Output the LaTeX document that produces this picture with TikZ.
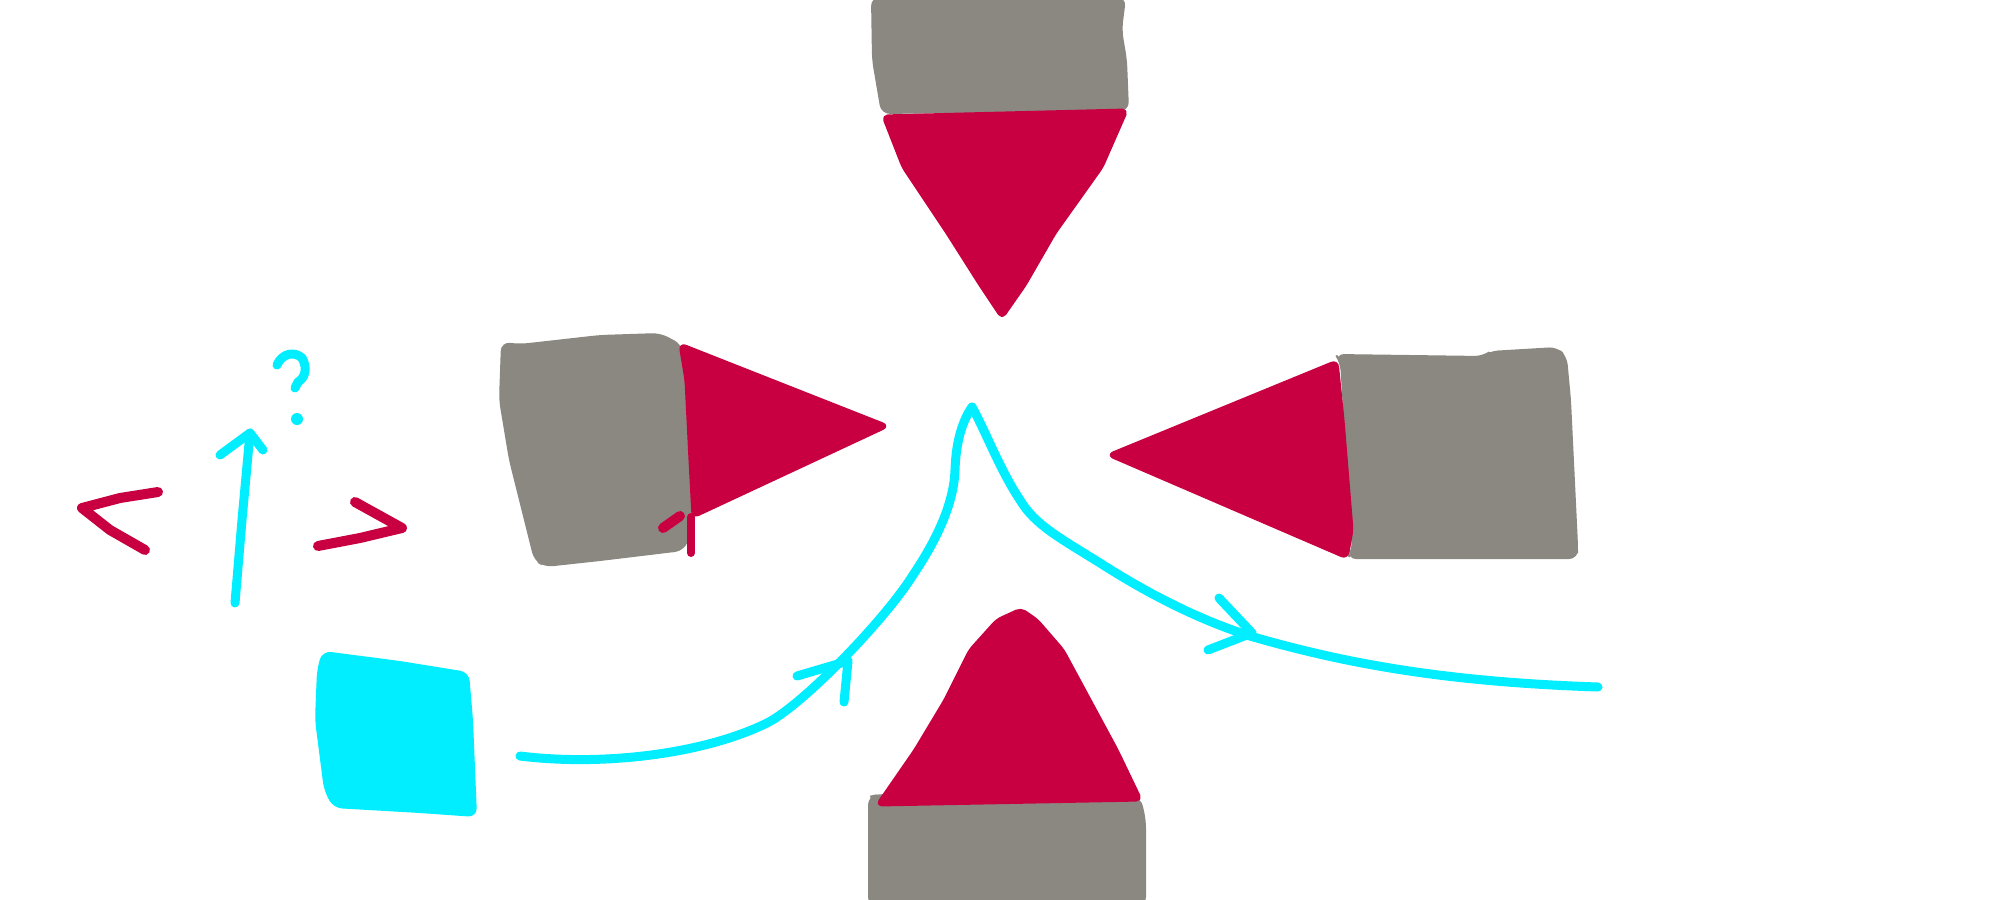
\documentclass[tikz,border=0pt]{standalone}
\usetikzlibrary{calc}
\definecolor{sgray}{RGB}{139,136,129}
\definecolor{sred}{RGB}{200,0,65}
\definecolor{scyan}{RGB}{0,238,255}
\tikzset{
  grayblock/.style={fill=sgray, draw=sgray, line width=0.02cm, rounded corners=0.08cm},
  redtri/.style={fill=sred, draw=sred, line width=0.03cm, line join=round, rounded corners=0.06cm},
  redshape/.style={fill=sred, draw=sred, line width=0.03cm, line join=round, rounded corners=0.05cm},
  cyanpen/.style={draw=scyan, line width=0.09cm, line cap=round, line join=round},
  redpen/.style={draw=sred, line width=0.10cm, line cap=round, line join=round},
}
\begin{document}
\begin{tikzpicture}[x=0.01cm,y=-0.01cm]
\useasboundingbox (0,0) rectangle (2000,900);
\fill[white] (0,0) rectangle (2000,900);

% gray blocks
\path[grayblock] (872,-2) -- (873,60) -- (882,113) -- (1128,110) -- (1126,60) -- (1121,30) -- (1125,-2) -- cycle;
\path[grayblock] (869,905) -- (869,797) -- (878,795) -- (1140,798) -- (1145,820) -- (1145,905) -- cycle;
\path[grayblock] (502,343) -- (520,345) -- (600,336) -- (660,334) -- (681,345) -- (686,380) -- (692,530) -- (683,550) -- (600,560) -- (545,566) -- (535,560) -- (510,460) -- (500,400) -- cycle;
\path[grayblock] (1336,355) -- (1483,357) -- (1490,352) -- (1557,348) -- (1566,357) -- (1570,400) -- (1577,545) -- (1577,558) -- (1348,558) -- (1353,550) -- (1341,362) -- cycle;

% red triangles
\path[redshape] (883,116) -- (1127,110) -- (1102,167) -- (1055,233) -- (1025,285) -- (1002,318) -- (980,285) -- (947,233) -- (903,167) -- cycle;
\path[redshape] (877,805) -- (915,750) -- (945,700) -- (970,650) -- (997,620) -- (1021,609) -- (1037,620) -- (1063,650) -- (1090,700) -- (1117,750) -- (1141,800) -- cycle;
\path[redtri] (680,344) -- (888,426) -- (693,517) -- (690,460) -- (686,380) -- cycle;
\path[redtri] (1337,361) -- (1108,455) -- (1347,558) -- (1352,530) -- (1343,420) -- cycle;
% red marks near left block
\draw[redpen, line width=0.08cm] (691,517) -- (691,553);
\draw[redpen] (663,528) -- (680,516);

% cyan block
\path[fill=scyan, draw=scyan, line width=0.02cm, rounded corners=0.08cm]
  (323,652) -- (400,662) -- (468,673) -- (472,720) -- (476,816) -- (420,812) -- (334,807) -- (325,790) -- (316,720) -- (318,670) -- cycle;

% cyan curve
\draw[cyanpen] (520,756) .. controls (600,766) and (700,755) .. (765,724)
  .. controls (800,708) and (885,620) .. (913,575)
  .. controls (940,535) and (954,500) .. (955,470)
  .. controls (956,440) and (963,420) .. (972,407);
\draw[cyanpen] (972,407) .. controls (985,430) and (1000,470) .. (1020,500)
  .. controls (1035,525) and (1060,538) .. (1100,563)
  .. controls (1150,595) and (1200,620) .. (1250,636)
  .. controls (1350,665) and (1450,682) .. (1598,687);
% arrowheads on curve
\draw[cyanpen] (797,676) -- (848,661) -- (844,702);
\draw[cyanpen] (1219,598) -- (1252,633) -- (1208,650);

% left symbols
\draw[redpen] (158,492) -- (120,498) -- (82,508) -- (110,530) -- (145,550);
\draw[redpen] (355,502) -- (402,528) -- (360,538) -- (318,546);
\draw[cyanpen] (235,603) -- (242,520) -- (250,433);
\draw[cyanpen] (220,455) -- (250,433) -- (263,450);
\draw[cyanpen] (277,365) .. controls (282,353) and (295,351) .. (302,358) .. controls (308,368) and (305,378) .. (298,382) -- (295,388);
\fill[scyan] (297,419) circle (6);
\end{tikzpicture}
\end{document}
